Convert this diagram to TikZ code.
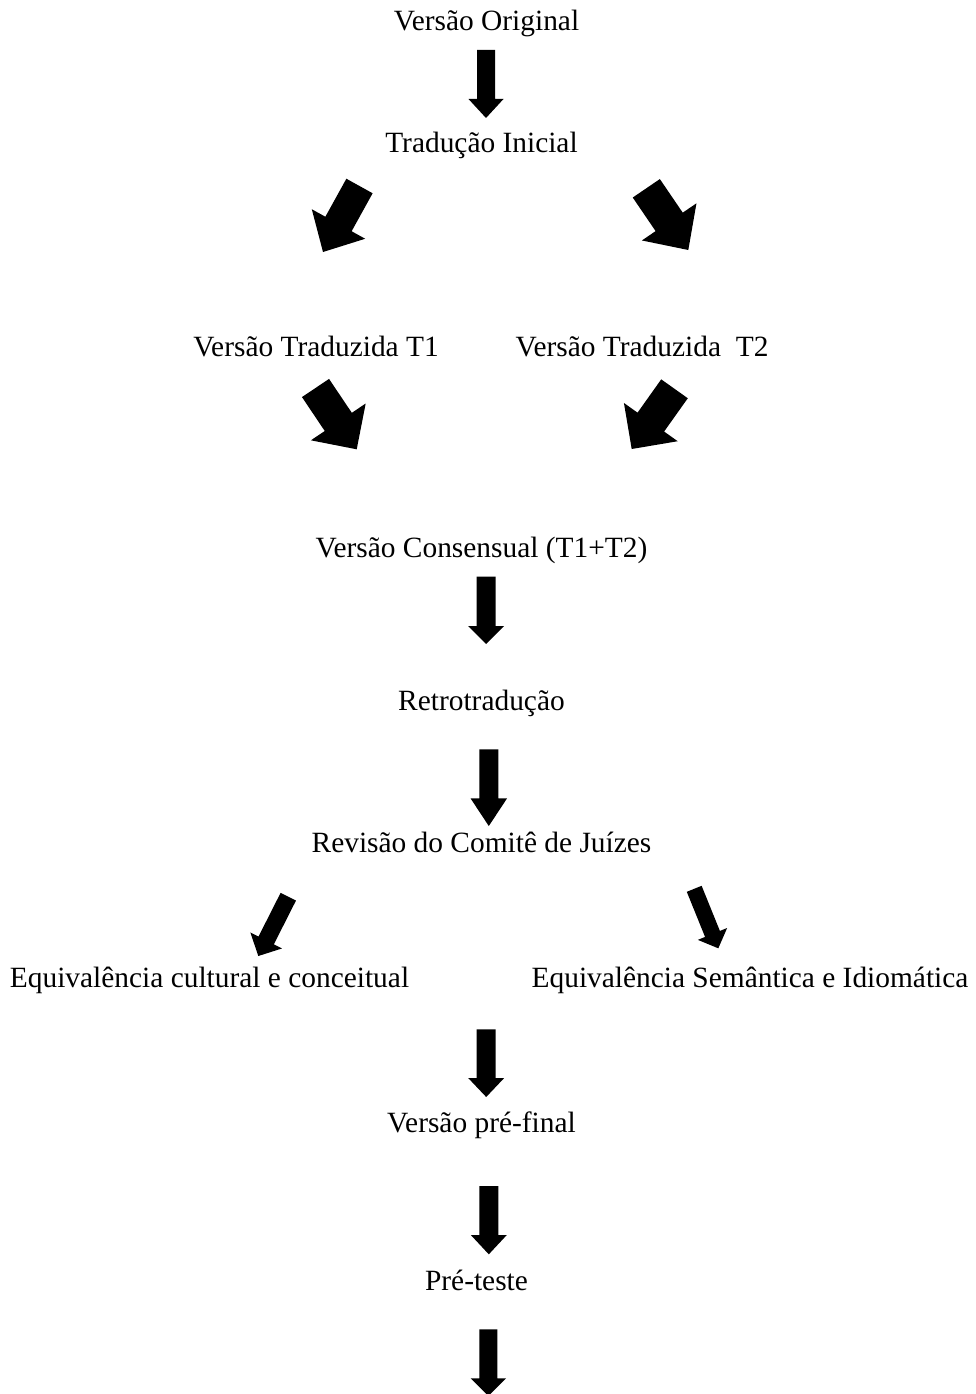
\documentclass[tikz,border=0pt]{standalone}
\usepackage{fontspec}
\setmainfont{Liberation Serif}
\usetikzlibrary{calc}
\newcommand\blockarrow[5]{%
  \coordinate (#1-#2-b) at ($(#2)!#5!(#1)$);
  \fill[black] ($(#1)!#3!90:(#2)$) -- ($(#1-#2-b)!#3!90:(#2)$) -- ($(#1-#2-b)!#4!90:(#2)$)
    -- (#2) -- ($(#1-#2-b)!#4!-90:(#2)$) -- ($(#1-#2-b)!#3!-90:(#2)$) -- ($(#1)!#3!-90:(#2)$) -- cycle;}
\begin{document}
\begin{tikzpicture}[x=1pt,y=-1pt,
  lbl/.style={anchor=base,inner sep=0pt,font=\fontsize{29.4}{35}\selectfont}]
\useasboundingbox (0,0) rectangle (975,1394);
% texts
\node[lbl] (orig) at (486.5,31) {Versão Original};
\node[lbl] (trad) at (481.5,152) {Tradução Inicial};
\node[lbl] (t1) at (316,356) {Versão Traduzida T1};
\node[lbl] (t2) at (642,356) {Versão Traduzida\ \ T2};
\node[lbl] (cons) at (481.5,557) {Versão Consensual (T1+T2)};
\node[lbl] (retro) at (481.5,710) {Retrotradução};
\node[lbl] (rev) at (481.5,852) {Revisão do Comitê de Juízes};
\node[lbl] (eqc) at (209.5,987) {Equivalência cultural e conceitual};
\node[lbl] (eqs) at (750,987) {Equivalência Semântica e Idiomática};
\node[lbl] (pre) at (481.5,1132) {Versão pré-final};
\node[lbl] (teste) at (476.5,1290) {Pré-teste};
% arrow end points
\coordinate (a1s) at (486,50);   \coordinate (a1t) at (486,118);
\coordinate (a2s) at (359.5,186); \coordinate (a2t) at (323,252);
\coordinate (a3s) at (646.3,188.3); \coordinate (a3t) at (688.3,250);
\coordinate (a4s) at (315.5,388); \coordinate (a4t) at (356.7,449.3);
\coordinate (a5s) at (674.5,388.8); \coordinate (a5t) at (631.7,449);
\coordinate (a9s) at (486.2,576.7); \coordinate (a9t) at (486.2,644);
\coordinate (a10s) at (488.8,749.3); \coordinate (a10t) at (488.8,826);
\coordinate (a6s) at (288.3,896.7); \coordinate (a6t) at (258.3,956);
\coordinate (a7s) at (694.2,888.8); \coordinate (a7t) at (718.3,948.3);
\coordinate (a11s) at (486.2,1029.3); \coordinate (a11t) at (486.2,1097);
\coordinate (a12s) at (488.8,1186); \coordinate (a12t) at (488.8,1254.3);
\coordinate (a8s) at (488.3,1329.3); \coordinate (a8t) at (488.3,1396);
% arrows
\blockarrow{a1s}{a1t}{9pt}{17.5pt}{19pt}
\blockarrow{a2s}{a2t}{15pt}{30.5pt}{32pt}
\blockarrow{a3s}{a3t}{16.4pt}{33pt}{34pt}
\blockarrow{a4s}{a4t}{16.3pt}{33pt}{33pt}
\blockarrow{a5s}{a5t}{16.3pt}{33pt}{33pt}
\blockarrow{a9s}{a9t}{9.5pt}{18pt}{18pt}
\blockarrow{a10s}{a10t}{9.5pt}{18.3pt}{27.7pt}
\blockarrow{a6s}{a6t}{8.6pt}{17.7pt}{17.4pt}
\blockarrow{a7s}{a7t}{8pt}{15.8pt}{15.5pt}
\blockarrow{a11s}{a11t}{9.5pt}{18pt}{19pt}
\blockarrow{a12s}{a12t}{9.5pt}{18pt}{19.3pt}
\blockarrow{a8s}{a8t}{9pt}{17.7pt}{17.7pt}
\end{tikzpicture}
\end{document}
